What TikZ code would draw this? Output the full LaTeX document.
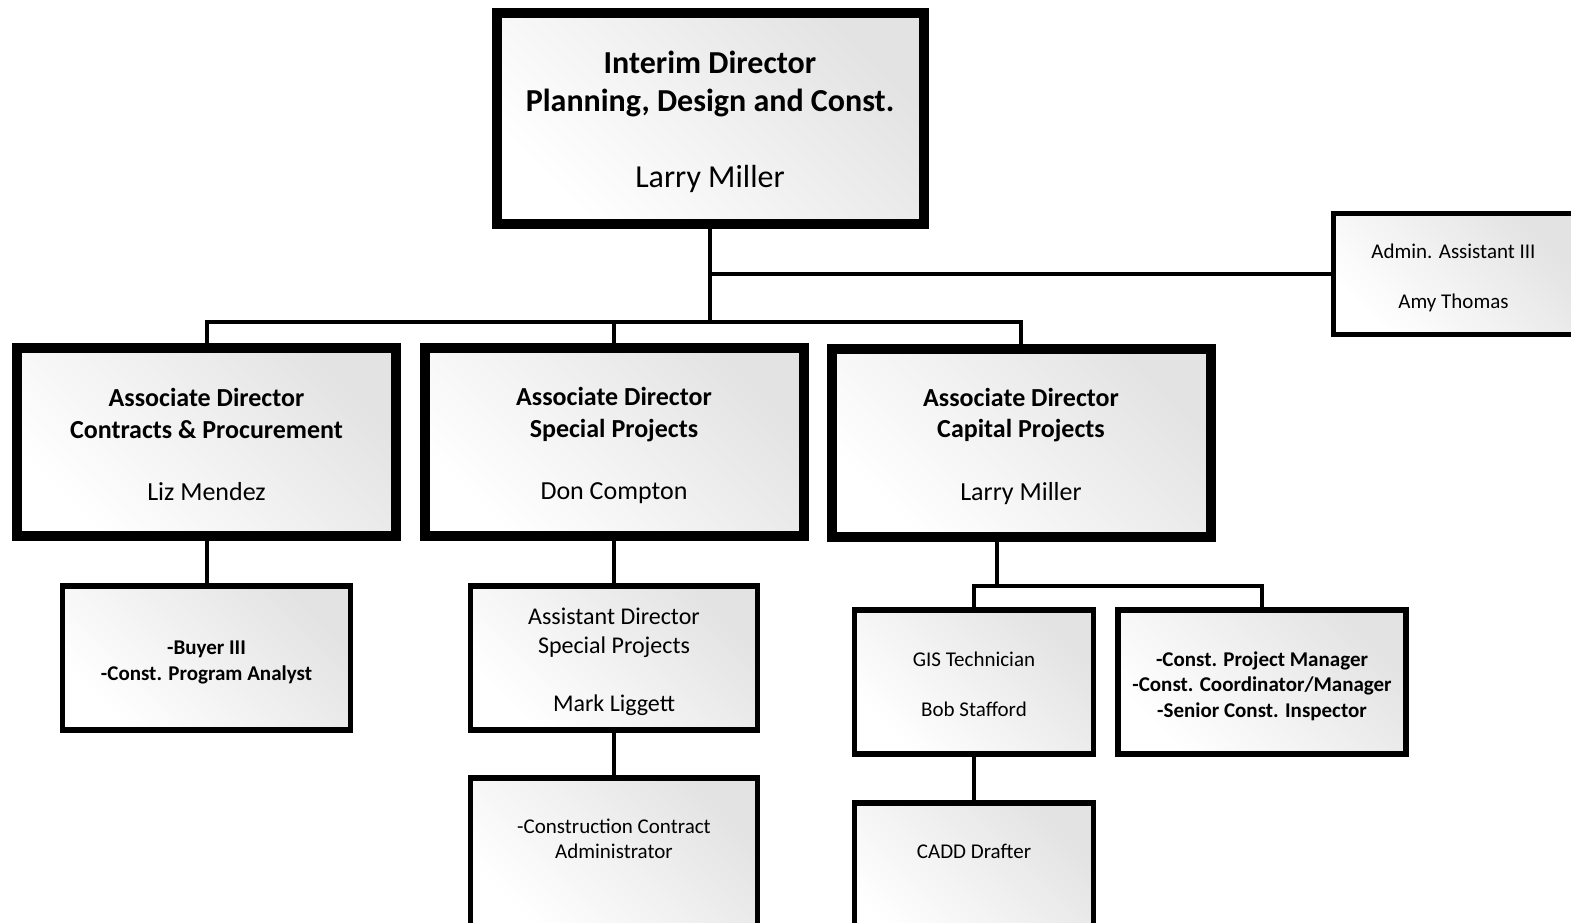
\documentclass[tikz,border=0pt]{standalone}
\usepackage{fontspec}
\setmainfont{Carlito}
\begin{document}
\begin{tikzpicture}[x=1pt,y=-1pt,
  gradbox/.style={draw=black, shade, top color=black!11, bottom color=white, shading angle=-45, inner sep=0pt},
  bigbox/.style={gradbox, line width=10pt},
  smallbox/.style={gradbox, line width=5.5pt},
  conn/.style={draw=black, line width=4pt},
  fA/.style={font=\fontsize{32}{38}\selectfont},
  fB/.style={font=\fontsize{26}{31.5}\selectfont},
  fC/.style={font=\fontsize{24}{29}\selectfont},
  fD/.style={font=\fontsize{21}{25.5}\selectfont},
  txt/.style={align=center, inner sep=0pt, text=black}
]
\useasboundingbox (0,0) rectangle (1571,922);
\clip (0,0) rectangle (1571,922);

% boxes
\node[bigbox, minimum width=427pt, minimum height=211pt] (top) at (710,118.5) {};
\node[smallbox, minimum width=240pt, minimum height=121pt] (admin) at (1453.5,274) {};
\node[bigbox, minimum width=379pt, minimum height=188pt] (a1) at (206.5,442) {};
\node[bigbox, minimum width=379pt, minimum height=188pt] (a2) at (614,442) {};
\node[bigbox, minimum width=379pt, minimum height=188pt] (a3) at (1021,442.5) {};
\node[smallbox, minimum width=288pt, minimum height=144pt] (buyer) at (206.5,658) {};
\node[smallbox, minimum width=287pt, minimum height=144pt] (asst) at (614,658) {};
\node[smallbox, minimum width=287pt, minimum height=150pt] (cc) at (614,853) {};
\node[smallbox, minimum width=239pt, minimum height=144pt] (gis) at (974,682) {};
\node[smallbox, minimum width=288pt, minimum height=144pt] (const) at (1262,682) {};
\node[smallbox, minimum width=239pt, minimum height=150pt] (cadd) at (974,878) {};

% texts
\node[txt, fA] (top-t) at (710,122)
  {\textbf{Interim Director}\\\textbf{Planning, Design and Const.}\\[38pt]Larry Miller};
\node[txt, fD] (admin-t) at (1453.5,278) {Admin. Assistant III\\[25pt]Amy Thomas};
\node[txt, fB] (a1-t) at (206.5,444.5)
  {\textbf{Associate Director}\\\textbf{Contracts \& Procurement}\\[31pt]Liz Mendez};
\node[txt, fB] (a2-t) at (614,445.5)
  {\textbf{Associate Director}\\\textbf{Special Projects}\\[31pt]Don Compton};
\node[txt, fB] (a3-t) at (1021,446)
  {\textbf{Associate Director}\\\textbf{Capital Projects}\\[31pt]Larry Miller};
\node[txt, fD] (buyer-t) at (206.5,662.5)
  {\textbf{-Buyer III}\\\textbf{-Const. Program Analyst}};
\node[txt, fC] (asst-t) at (614,662)
  {Assistant Director\\Special Projects\\[29pt]Mark Liggett};
\node[txt, fD] (cc-t) at (614,839) {-Construction Contract\\Administrator};
\node[txt, fD] (gis-t) at (974,684.5) {GIS Technician\\[25pt]Bob Stafford};
\node[txt, fD] (const-t) at (1262,686)
  {\textbf{-Const. Project Manager}\\\textbf{-Const. Coordinator/Manager}\\\textbf{-Senior Const. Inspector}};
\node[txt, fD] (cadd-t) at (974,851) {CADD Drafter};

% connectors
\coordinate (bus) at (710,322);
\coordinate (b3) at (997,586);
\draw[conn] (top.south) -- (bus);
\draw[conn] (admin.west) -- (admin.west -| top.south);
\draw[conn] (a1.north) -- (a1.north |- bus) -- (a3.north |- bus) -- (a3.north);
\draw[conn] (a2.north) -- (a2.north |- bus);
\draw[conn] (a1.south) -- (buyer.north);
\draw[conn] (a2.south) -- (asst.north);
\draw[conn] (asst.south) -- (cc.north);
\draw[conn] (b3 |- a3.south) -- (b3);
\draw[conn] (gis.north) -- (gis.north |- b3) -- (const.north |- b3) -- (const.north);
\draw[conn] (gis.south) -- (cadd.north);
\end{tikzpicture}
\end{document}
